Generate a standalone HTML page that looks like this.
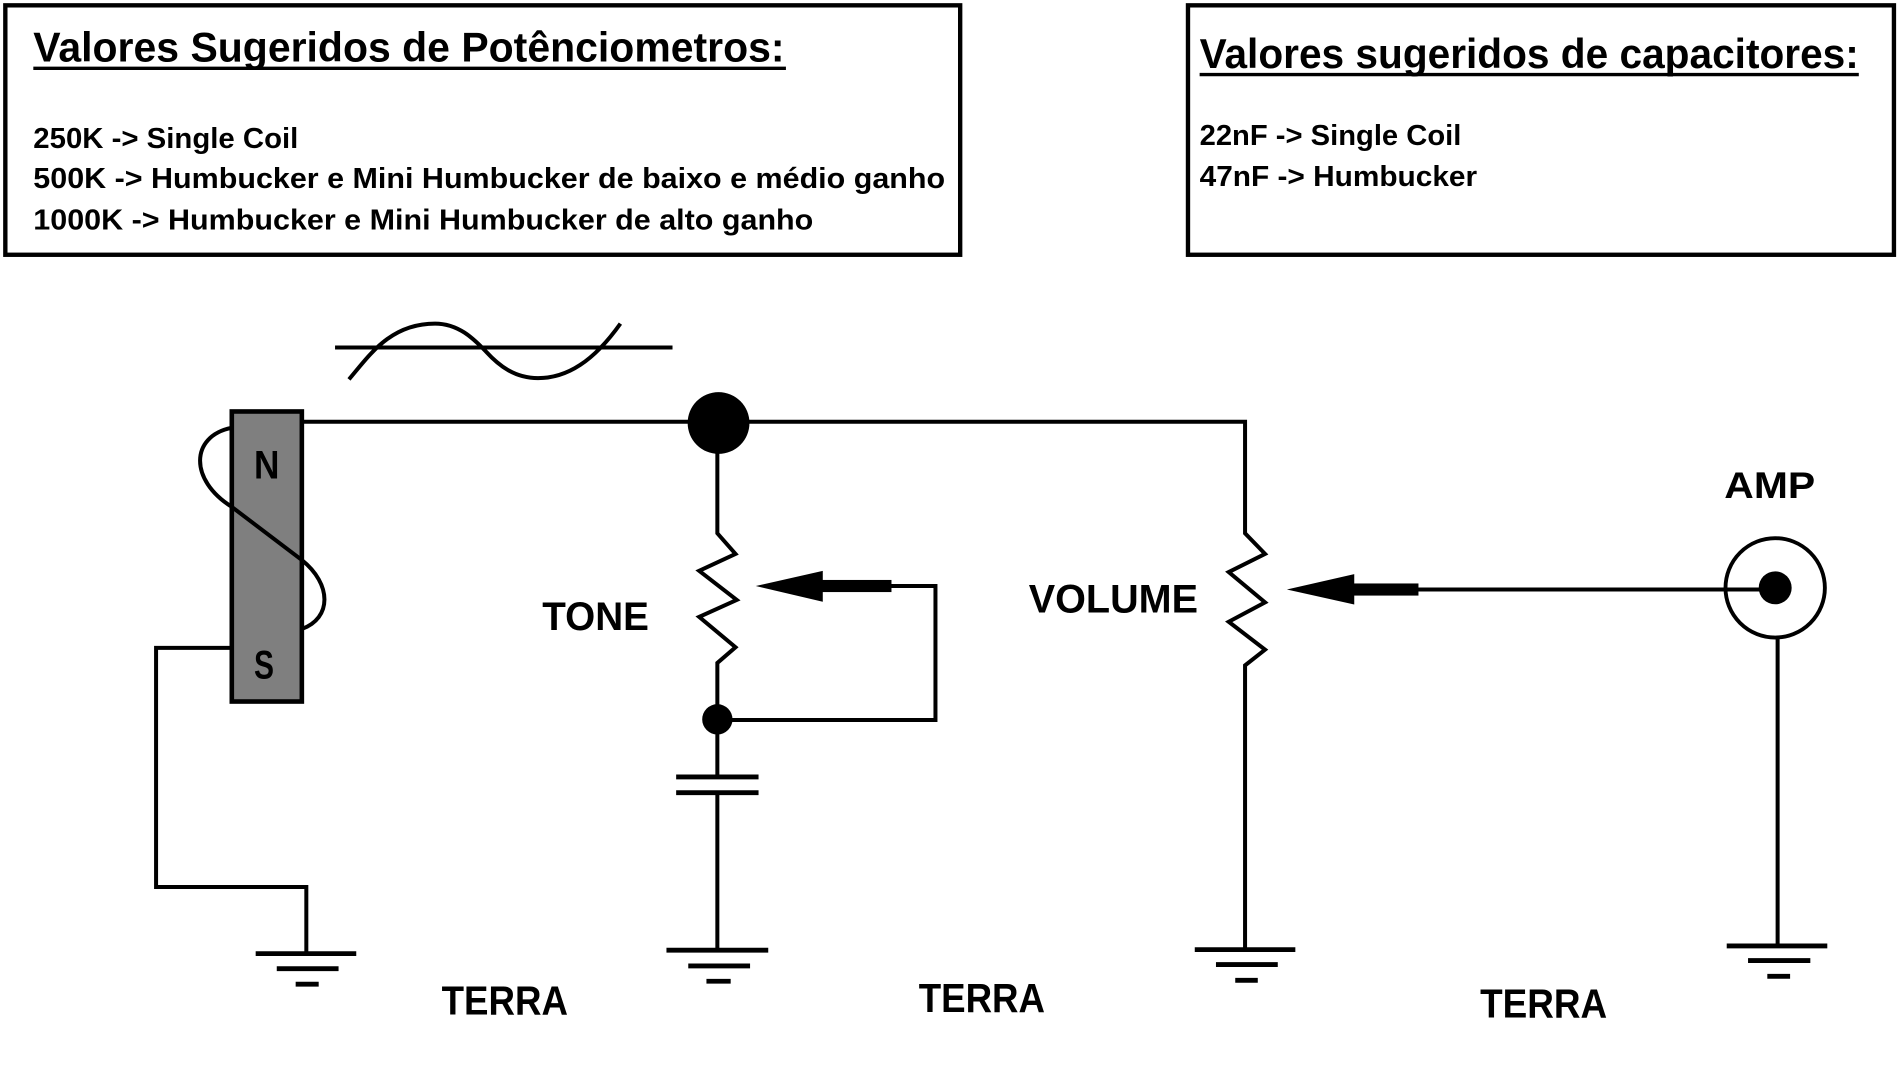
<!DOCTYPE html>
<html>
<head>
<meta charset="utf-8">
<style>
  html,body{margin:0;padding:0;background:#fff;}
  svg{display:block;}
  text{font-family:"Liberation Sans",Arial,sans-serif;font-weight:bold;fill:#000;}
</style>
</head>
<body>
<svg width="1900" height="1069" viewBox="0 0 1568 882" preserveAspectRatio="none" xmlns="http://www.w3.org/2000/svg">
  <rect x="0" y="0" width="1568" height="882" fill="#fff"/>

  <!-- Header boxes -->
  <rect x="4.4" y="4.4" width="788" height="205.8" fill="none" stroke="#000" stroke-width="3.6"/>
  <rect x="980.4" y="4.4" width="582.6" height="205.8" fill="none" stroke="#000" stroke-width="3.6"/>

  <!-- Box 1 text -->
  <text x="27.5" y="50.9" font-size="34.5" textLength="620" lengthAdjust="spacingAndGlyphs">Valores Sugeridos de Potênciometros:</text>
  <line x1="27.5" y1="56.4" x2="648.6" y2="56.4" stroke="#000" stroke-width="2.8"/>
  <text x="27.5" y="122" font-size="23.5" textLength="218.7" lengthAdjust="spacingAndGlyphs">250K -&gt; Single Coil</text>
  <text x="27.5" y="155" font-size="23.5" textLength="752.5" lengthAdjust="spacingAndGlyphs">500K -&gt; Humbucker e Mini Humbucker de baixo e médio ganho</text>
  <text x="27.5" y="189.5" font-size="23.5" textLength="643.7" lengthAdjust="spacingAndGlyphs">1000K -&gt; Humbucker e Mini Humbucker de alto ganho</text>

  <!-- Box 2 text -->
  <text x="990" y="56" font-size="34.5" textLength="544" lengthAdjust="spacingAndGlyphs">Valores sugeridos de capacitores:</text>
  <line x1="990" y1="61.5" x2="1534" y2="61.5" stroke="#000" stroke-width="2.8"/>
  <text x="990" y="119.5" font-size="23.5" textLength="216" lengthAdjust="spacingAndGlyphs">22nF -&gt; Single Coil</text>
  <text x="990" y="153.5" font-size="23.5" textLength="229" lengthAdjust="spacingAndGlyphs">47nF -&gt; Humbucker</text>

  <!-- Wave symbol -->
  <g fill="none" stroke="#000" stroke-width="3.3">
    <path d="M276.5,286.7 H555"/>
    <path d="M288,313 C305,293 322,267 359,267 C380,267 393,282 401,290 C412,302 425,312 444,312 C468,312 490,298 512,267"/>
  </g>

  <!-- Pickup -->
  <rect x="191.3" y="339.5" width="57.8" height="239.3" fill="#7f7f7f" stroke="#000" stroke-width="3.8"/>
  <path d="M191,353 C157,360 156,396 191,418 L249,462 C274,482 274,510 249,519" fill="none" stroke="#000" stroke-width="3.3"/>
  <text x="209.6" y="394.7" font-size="33" textLength="21" lengthAdjust="spacingAndGlyphs">N</text>
  <text x="209.6" y="559.8" font-size="33" textLength="16.5" lengthAdjust="spacingAndGlyphs">S</text>

  <!-- Wires -->
  <g fill="none" stroke="#000" stroke-width="3.3" stroke-linejoin="miter">
    <!-- top wire + volume pot -->
    <path d="M249,348 H1027.5 V440 L1044,457 L1014,472 L1044,497 L1014,513 L1044,536 L1027.5,549 V783.5"/>
    <!-- tone pot -->
    <path d="M592,349 V440 L607,457 L577,471 L608,495 L577,509 L607,534 L592,547 V641"/>
    <path d="M592,654 V784"/>
    <!-- tone feedback loop -->
    <path d="M735,483.5 H772 V594 H592"/>
    <!-- pickup ground wire -->
    <path d="M191,534.5 H128.8 V731.8 H252.8 V786.8"/>
    <!-- volume wiper to jack -->
    <path d="M1170,486.4 H1465"/>
    <!-- amp ground -->
    <path d="M1467,526 V780.5"/>
  </g>

  <!-- Junction dots -->
  <circle cx="593" cy="349" r="25.5" fill="#000"/>
  <circle cx="592" cy="593.5" r="12.5" fill="#000"/>

  <!-- Tone arrow -->
  <polygon points="623.7,483.5 679,471 679,496.5" fill="#000"/>
  <rect x="678" y="478.5" width="57.7" height="10" fill="#000"/>

  <!-- Volume arrow -->
  <polygon points="1062,486.4 1117.6,473.7 1117.6,498.8" fill="#000"/>
  <rect x="1117" y="481.4" width="53.6" height="10" fill="#000"/>

  <!-- Capacitor -->
  <g stroke="#000" stroke-width="4">
    <line x1="558" y1="641" x2="626" y2="641"/>
    <line x1="558" y1="654" x2="626" y2="654"/>
  </g>

  <!-- Jack -->
  <circle cx="1465" cy="485" r="41" fill="none" stroke="#000" stroke-width="3.2"/>
  <circle cx="1465" cy="485" r="13.6" fill="#000"/>

  <!-- Grounds -->
  <g stroke="#000" stroke-width="4">
    <line x1="211" y1="786.8" x2="294" y2="786.8"/>
    <line x1="228.4" y1="799.2" x2="279.4" y2="799.2"/>
    <line x1="244" y1="812" x2="263" y2="812"/>

    <line x1="550" y1="784" x2="634" y2="784"/>
    <line x1="568" y1="797" x2="619" y2="797"/>
    <line x1="583" y1="809.6" x2="603" y2="809.6"/>

    <line x1="986" y1="783.5" x2="1069" y2="783.5"/>
    <line x1="1003.5" y1="795.8" x2="1054.5" y2="795.8"/>
    <line x1="1019.4" y1="808.8" x2="1038" y2="808.8"/>

    <line x1="1425" y1="780.5" x2="1508" y2="780.5"/>
    <line x1="1442.6" y1="792.5" x2="1494" y2="792.5"/>
    <line x1="1458.5" y1="805.5" x2="1477.3" y2="805.5"/>
  </g>

  <!-- Labels -->
  <text x="447.5" y="520" font-size="32.5" textLength="88" lengthAdjust="spacingAndGlyphs">TONE</text>
  <text x="849" y="505.4" font-size="32.5" textLength="139.7" lengthAdjust="spacingAndGlyphs">VOLUME</text>
  <text x="1423" y="410.7" font-size="30.5" textLength="75" lengthAdjust="spacingAndGlyphs">AMP</text>
  <text x="364.5" y="837" font-size="33.5" textLength="104.2" lengthAdjust="spacingAndGlyphs">TERRA</text>
  <text x="758.2" y="835" font-size="33.5" textLength="104.2" lengthAdjust="spacingAndGlyphs">TERRA</text>
  <text x="1221.5" y="839.6" font-size="33.5" textLength="104.8" lengthAdjust="spacingAndGlyphs">TERRA</text>
</svg>
</body>
</html>
